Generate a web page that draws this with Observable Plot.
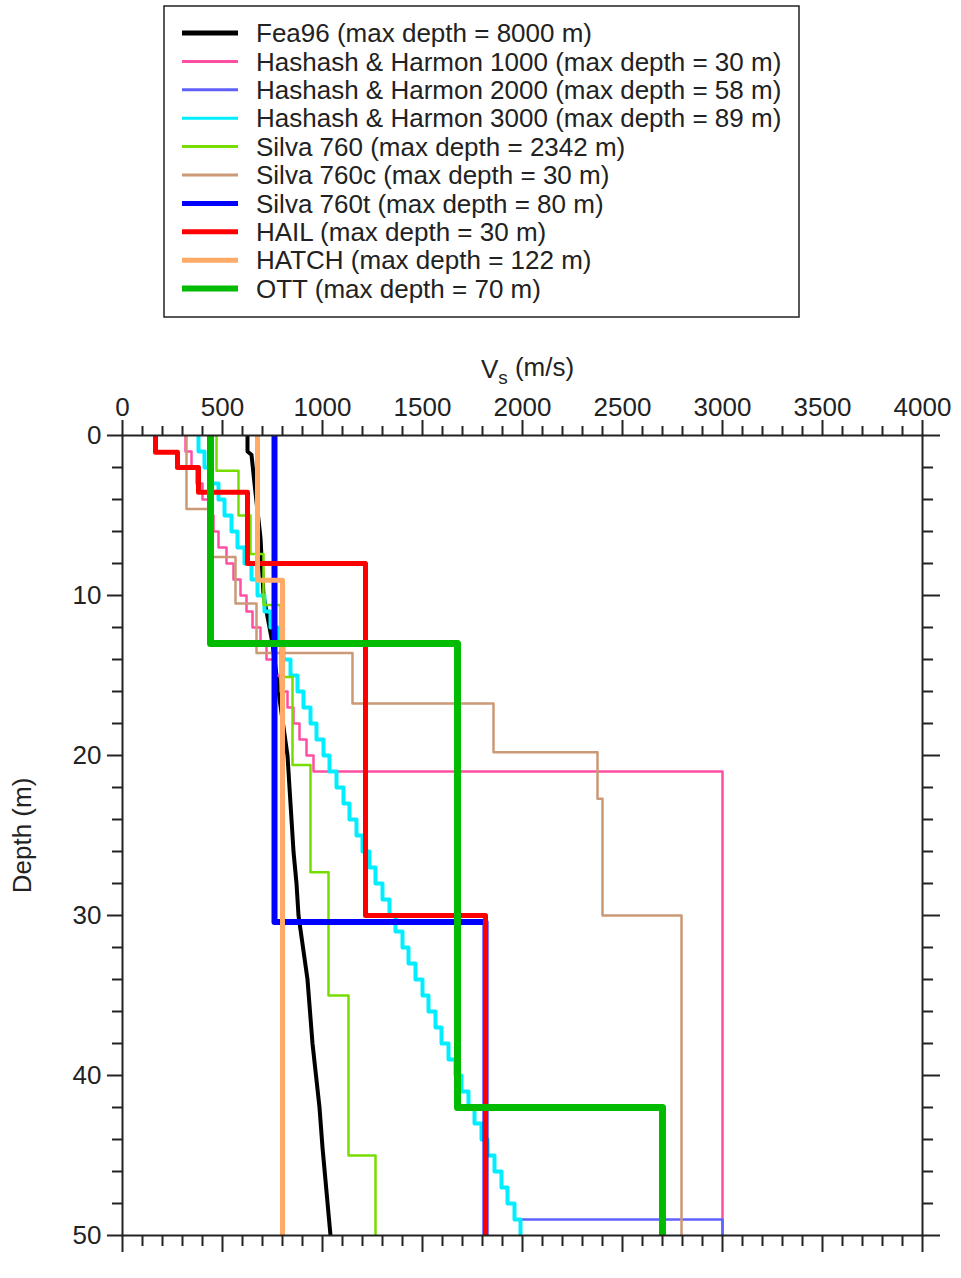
<!DOCTYPE html>
<html>
<head>
<meta charset="utf-8">
<script src="https://cdn.jsdelivr.net/npm/d3@7"></script>
<script src="https://cdn.jsdelivr.net/npm/@observablehq/plot@0.6"></script>
<style>
  body { margin: 0; background: #fff; font-family: "Liberation Sans", Arial, sans-serif; }
  #legend { display: block; }
  #chart svg { display: block; }
</style>
</head>
<body>
<svg id="legend" width="961" height="330"></svg>
<div id="chart"></div>
<script>
// ---------- Data ----------
const seriesNames = [
  "Fea96 (max depth = 8000 m)",
  "Hashash & Harmon 1000 (max depth = 30 m)",
  "Hashash & Harmon 2000 (max depth = 58 m)",
  "Hashash & Harmon 3000 (max depth = 89 m)",
  "Silva 760 (max depth = 2342 m)",
  "Silva 760c (max depth = 30 m)",
  "Silva 760t (max depth = 80 m)",
  "HAIL (max depth = 30 m)",
  "HATCH (max depth = 122 m)",
  "OTT (max depth = 70 m)"
];
const seriesColors = ["#000000", "#ff4fa3", "#6060ff", "#00eeff", "#77dd00", "#cc9977", "#0000ff", "#ff0000", "#ffaa66", "#00bb00"];
const legendWidths = [5, 3, 3, 3, 3, 3, 5, 5, 5, 6];
const plotWidths   = [4, 2.5, 2.5, 4, 2.5, 2.5, 6, 5, 5, 7];

// Fea96: smooth gradient profile (depth m, Vs m/s)
const fea96Depth = [0, 1.0, 1.2, 3, 6.4, 10, 13, 16, 20, 23, 26, 28, 30, 34, 38, 42, 44.5, 50];
const fea96Vs    = [625, 625, 645, 660, 690, 705, 750, 780, 825, 840, 855, 870, 880, 925, 950, 985, 1000, 1040];

// Layered profiles: layer top depth (m) and layer Vs (m/s)
const hh1000Tops = [0,1,2,3,4,5,6,7,8,9,10,11,12,13,14,15,16,17,18,19,20,21];
const hh1000Vs   = [315,345,370,400,430,455,480,520,555,590,620,650,690,720,755,790,825,855,885,920,955,3000];

const hh3000Tops = [0,1,2,3,4,5,6,7,8,9,10,11,12,13,14,15,16,17,18,19,20,21,22,23,24,25,26,27,28,29,30,31,32,33,34,35,36,37,38,39,40,41,42,43,44,45,46,47,48,49];
const hh3000Vs   = [380,410,445,480,510,545,575,610,645,675,710,740,775,805,840,875,905,940,970,1005,1035,1070,1105,1135,1170,1200,1235,1265,1300,1335,1365,1400,1430,1465,1500,1530,1565,1595,1630,1665,1695,1730,1760,1795,1825,1860,1895,1925,1960,1990];

const hh2000Tops = hh3000Tops;
const hh2000Vs   = [380,410,445,480,510,545,575,610,645,675,710,740,775,805,840,875,905,940,970,1005,1035,1070,1105,1135,1170,1200,1235,1265,1300,1335,1365,1400,1430,1465,1500,1530,1565,1595,1630,1665,1695,1730,1760,1795,1825,1860,1895,1925,1960,3000];

const silva760Tops = [0, 2.2, 5.0, 7.4, 10.6, 15.1, 20.6, 27.3, 35, 45];
const silva760Vs   = [470, 580, 640, 705, 790, 850, 940, 1030, 1130, 1265];

const silva760cTops = [0, 4.6, 7.6, 10.5, 13.6, 16.75, 19.8, 22.7, 30];
const silva760cVs   = [320, 440, 565, 670, 1150, 1855, 2375, 2400, 2795];

const silva760tTops = [0, 30.4];
const silva760tVs   = [760, 1815];

const hailTops = [0, 1.05, 2.0, 3.55, 8.0, 30.0];
const hailVs   = [165, 275, 380, 625, 1215, 1815];

const hatchTops = [0, 9.05];
const hatchVs   = [675, 800];

const ottTops = [0, 13, 42];
const ottVs   = [440, 1675, 2700];

// Axis ticks
const xMajorTicks = [0, 500, 1000, 1500, 2000, 2500, 3000, 3500, 4000];
const xMinorTicks = d3.range(0, 4001, 100).filter(v => v % 500 !== 0);
const yMajorTicks = [0, 10, 20, 30, 40, 50];
const yMinorTicks = d3.range(0, 51, 2).filter(v => v % 10 !== 0);
const depthMax = 50;

// ---------- Build tables ----------
function layered(tops, vs) {
  return tops.flatMap((t, i) => [
    {v: vs[i], d: t},
    {v: vs[i], d: i + 1 < tops.length ? tops[i + 1] : depthMax}
  ]);
}
const profiles = [
  fea96Depth.map((d, i) => ({v: fea96Vs[i], d})),
  layered(hh1000Tops, hh1000Vs),
  layered(hh2000Tops, hh2000Vs),
  layered(hh3000Tops, hh3000Vs),
  layered(silva760Tops, silva760Vs),
  layered(silva760cTops, silva760cVs),
  layered(silva760tTops, silva760tVs),
  layered(hailTops, hailVs),
  layered(hatchTops, hatchVs),
  layered(ottTops, ottVs)
];

// ---------- Legend ----------
const leg = d3.select("#legend");
leg.append("rect").attr("x", 164).attr("y", 6).attr("width", 635).attr("height", 311)
  .attr("fill", "white").attr("stroke", "#222").attr("stroke-width", 1.5);
seriesNames.forEach((name, i) => {
  const y = 33 + i * 28.4;
  leg.append("line").attr("x1", 182).attr("x2", 238).attr("y1", y).attr("y2", y)
    .attr("stroke", seriesColors[i]).attr("stroke-width", legendWidths[i]);
  leg.append("text").attr("x", 256).attr("y", y).attr("dy", "0.35em")
    .attr("font-family", "Liberation Sans, Arial, sans-serif").attr("font-size", 26)
    .attr("fill", "#222").text(name);
});

// ---------- Plot ----------
const tickStyle = {strokeWidth: 2, stroke: "#222"};
const fmt = d => String(d);
const chart = Plot.plot({
  width: 961,
  height: 948,
  marginLeft: 122,
  marginRight: 39,
  marginTop: 105,
  marginBottom: 43,
  style: {fontFamily: "Liberation Sans, Arial, sans-serif", fontSize: "26px", color: "#222", background: "white"},
  x: {domain: [0, 4000]},
  y: {domain: [0, depthMax], reverse: true},
  marks: [
    ...profiles.map((pts, i) => Plot.line(pts, {
      x: "v", y: "d", stroke: seriesColors[i], strokeWidth: plotWidths[i],
      strokeLinejoin: "round", strokeLinecap: "butt"
    })),
    Plot.frame({stroke: "#222", strokeWidth: 2}),
    Plot.axisX(xMajorTicks, {anchor: "top", tickSize: 16, tickPadding: 4, tickFormat: fmt, label: null, fontSize: 26, ...tickStyle}),
    Plot.axisX(xMinorTicks, {anchor: "top", tickSize: 10, text: null, label: null, ...tickStyle}),
    Plot.axisX(xMajorTicks, {anchor: "bottom", tickSize: 17, text: null, label: null, ...tickStyle}),
    Plot.axisX(xMinorTicks, {anchor: "bottom", tickSize: 11, text: null, label: null, ...tickStyle}),
    Plot.axisY(yMajorTicks, {anchor: "left", tickSize: 15, tickPadding: 6, tickFormat: fmt, label: null, fontSize: 26, ...tickStyle}),
    Plot.axisY(yMinorTicks, {anchor: "left", tickSize: 10, text: null, label: null, ...tickStyle}),
    Plot.axisY(yMajorTicks, {anchor: "right", tickSize: 17, text: null, label: null, ...tickStyle}),
    Plot.axisY(yMinorTicks, {anchor: "right", tickSize: 10, text: null, label: null, ...tickStyle}),
    Plot.text(["Depth (m)"], {frameAnchor: "left", text: d => d, rotate: -90, textAnchor: "middle", dx: -100, fontSize: 26, fill: "#222"}),
    Plot.text(["V"], {frameAnchor: "top", text: d => d, textAnchor: "middle", dx: 5, dy: -76, fontSize: 26, fill: "#222"})
  ]
});
document.getElementById("chart").appendChild(chart);

// subscript in the x-axis title
const t = d3.select(chart).selectAll("text").filter(function() { return this.textContent === "V"; });
t.text(null);
t.append("tspan").text("V");
t.append("tspan").attr("font-size", 19).attr("dy", "0.3em").text("s");
t.append("tspan").attr("dy", "-0.3em").text(" (m/s)");
</script>
</body>
</html>
